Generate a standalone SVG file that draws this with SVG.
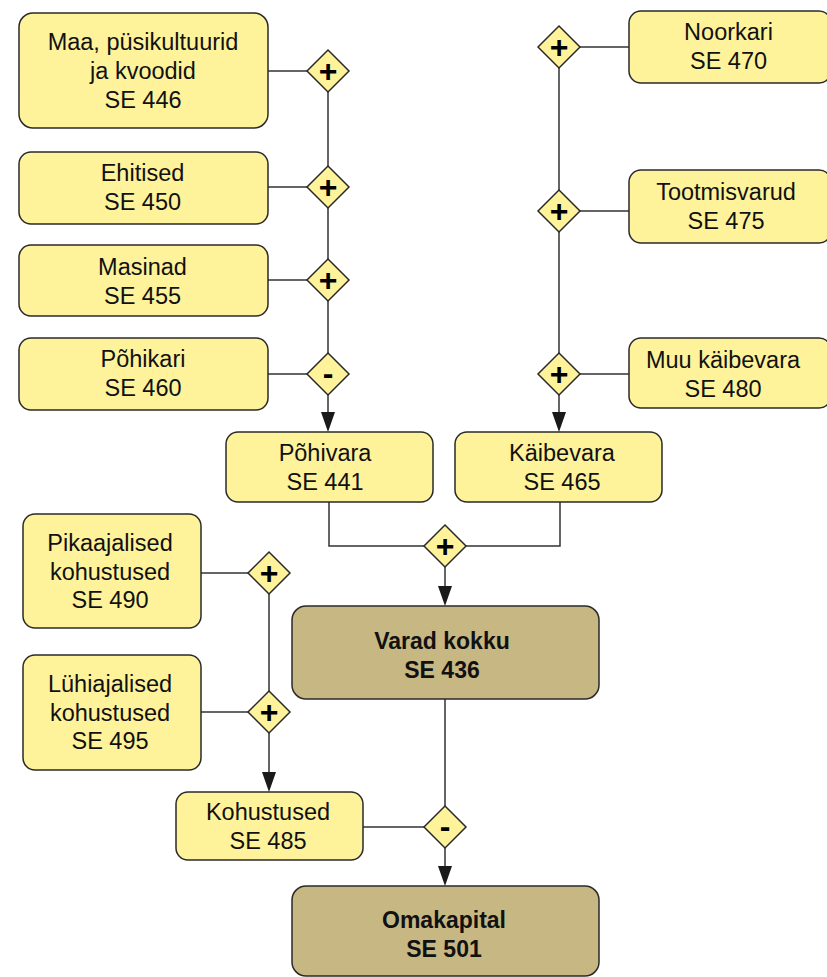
<svg xmlns="http://www.w3.org/2000/svg" width="827" height="977" viewBox="0 0 827 977">
<defs>
<style>
.box{fill:#fef39b;stroke:#2a2a2a;stroke-width:1.5}
.sum{fill:#c7b783;stroke:#2a2a2a;stroke-width:1.5}
.dia{fill:#fef39b;stroke:#2a2a2a;stroke-width:1.5}
.t{font-family:"Liberation Sans",Arial,sans-serif;font-size:23.5px;fill:#111;text-anchor:middle}
.b{font-weight:bold;font-size:23px}
.sign{font-family:"Liberation Sans",Arial,sans-serif;font-size:32px;font-weight:bold;fill:#000;text-anchor:middle}
.c{fill:none;stroke:#333;stroke-width:1.5}
.ah{fill:#1a1a1a}
</style>
</defs>

<g id="connectors">
<path class="c" d="M268,71H307M268,187H307M268,280H307M268,374H307"/>
<path class="c" d="M328,92V166M328,208V259M328,301V353"/>
<path class="c" d="M328,395V414"/>
<path class="c" d="M580,47H629M580,211H629M580,374H629"/>
<path class="c" d="M559,68V190M559,232V353"/>
<path class="c" d="M559,395V414"/>
<path class="c" d="M329,502V546H424M560,502V546H466"/>
<path class="c" d="M445,567V588"/>
<path class="c" d="M201,573H248M201,712H248M269,594V691M269,733V774"/>
<path class="c" d="M445,699V806M363,827H424M445,848V868"/>
<path class="ah" d="M321,412H335L328,432Z"/>
<path class="ah" d="M552,412H566L559,432Z"/>
<path class="ah" d="M438,586H452L445,606Z"/>
<path class="ah" d="M262,772H276L269,792Z"/>
<path class="ah" d="M438,866H452L445,886Z"/>
</g>

<g id="n446"><rect class="box" x="19" y="13" width="249" height="115" rx="14"/>
<text class="t" x="143" y="50">Maa, püsikultuurid</text><text class="t" x="143" y="79">ja kvoodid</text><text class="t" x="143" y="108">SE 446</text></g>
<g id="n450"><rect class="box" x="19" y="152" width="249" height="72" rx="12"/>
<text class="t" x="142.5" y="181">Ehitised</text><text class="t" x="142.5" y="210">SE 450</text></g>
<g id="n455"><rect class="box" x="19" y="245" width="249" height="71" rx="12"/>
<text class="t" x="142.5" y="275">Masinad</text><text class="t" x="142.5" y="304">SE 455</text></g>
<g id="n460"><rect class="box" x="19" y="338" width="249" height="72" rx="12"/>
<text class="t" x="143" y="367">Põhikari</text><text class="t" x="143" y="396">SE 460</text></g>

<g id="d1"><path class="dia" d="M328,50L349,71L328,92L307,71Z"/><text class="sign" x="328" y="82">+</text></g>
<g id="d2"><path class="dia" d="M328,166L349,187L328,208L307,187Z"/><text class="sign" x="328" y="198">+</text></g>
<g id="d3"><path class="dia" d="M328,259L349,280L328,301L307,280Z"/><text class="sign" x="328" y="291">+</text></g>
<g id="d4"><path class="dia" d="M328,353L349,374L328,395L307,374Z"/><text class="sign" x="328" y="384">-</text></g>

<g id="n470"><rect class="box" x="629" y="11" width="202" height="72" rx="12"/>
<text class="t" x="728.5" y="40">Noorkari</text><text class="t" x="728.5" y="69">SE 470</text></g>
<g id="n475"><rect class="box" x="629" y="170" width="202" height="73" rx="12"/>
<text class="t" x="726" y="200">Tootmisvarud</text><text class="t" x="726" y="229">SE 475</text></g>
<g id="n480"><rect class="box" x="629" y="338" width="202" height="70" rx="12"/>
<text class="t" x="723" y="368">Muu käibevara</text><text class="t" x="723" y="397">SE 480</text></g>

<g id="d5"><path class="dia" d="M559,26L580,47L559,68L538,47Z"/><text class="sign" x="559" y="58">+</text></g>
<g id="d6"><path class="dia" d="M559,190L580,211L559,232L538,211Z"/><text class="sign" x="559" y="222">+</text></g>
<g id="d7"><path class="dia" d="M559,353L580,374L559,395L538,374Z"/><text class="sign" x="559" y="385">+</text></g>

<g id="n441"><rect class="box" x="226" y="432" width="207" height="70" rx="12"/>
<text class="t" x="325" y="461">Põhivara</text><text class="t" x="325" y="490">SE 441</text></g>
<g id="n465"><rect class="box" x="455" y="432" width="207" height="70" rx="12"/>
<text class="t" x="562" y="461">Käibevara</text><text class="t" x="562" y="490">SE 465</text></g>

<g id="d8"><path class="dia" d="M445,525L466,546L445,567L424,546Z"/><text class="sign" x="445" y="557">+</text></g>

<g id="n436"><rect class="sum" x="292" y="606" width="307" height="93" rx="14"/>
<text class="t b" x="442" y="649">Varad kokku</text><text class="t b" x="442" y="678">SE 436</text></g>

<g id="n490"><rect class="box" x="23" y="514" width="178" height="114" rx="12"/>
<text class="t" x="110" y="551">Pikaajalised</text><text class="t" x="110" y="580">kohustused</text><text class="t" x="110" y="608">SE 490</text></g>
<g id="n495"><rect class="box" x="23" y="655" width="178" height="115" rx="12"/>
<text class="t" x="110" y="692">Lühiajalised</text><text class="t" x="110" y="721">kohustused</text><text class="t" x="110" y="749">SE 495</text></g>

<g id="d9"><path class="dia" d="M269,552L290,573L269,594L248,573Z"/><text class="sign" x="269" y="584">+</text></g>
<g id="d10"><path class="dia" d="M269,691L290,712L269,733L248,712Z"/><text class="sign" x="269" y="723">+</text></g>

<g id="n485"><rect class="box" x="176" y="792" width="187" height="68" rx="12"/>
<text class="t" x="268" y="820">Kohustused</text><text class="t" x="268" y="849">SE 485</text></g>

<g id="d11"><path class="dia" d="M445,806L466,827L445,848L424,827Z"/><text class="sign" x="445" y="837">-</text></g>

<g id="n501"><rect class="sum" x="292" y="886" width="307" height="90" rx="14"/>
<text class="t b" x="444" y="928">Omakapital</text><text class="t b" x="444" y="957">SE 501</text></g>
</svg>
